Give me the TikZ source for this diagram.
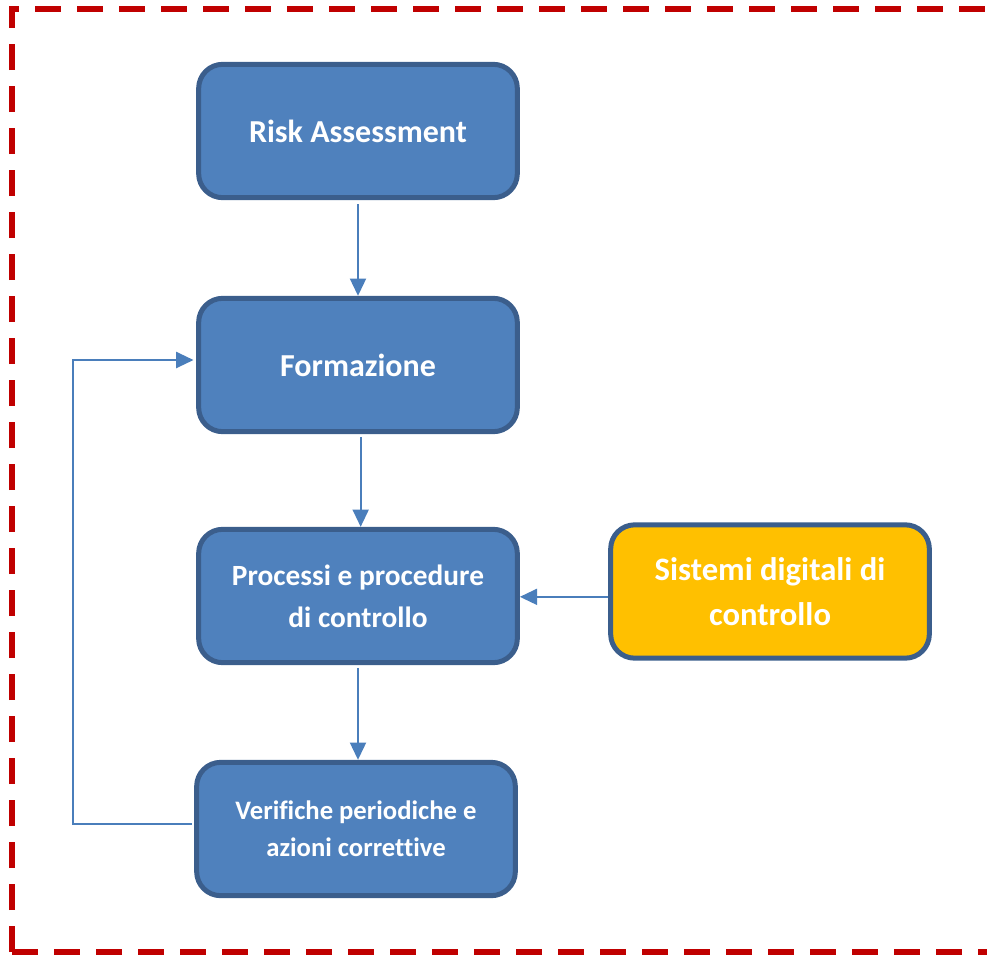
\documentclass[tikz,border=0pt]{standalone}
\usepackage{fontspec}
\setmainfont{Carlito}[Ligatures={NoCommon}]
\usetikzlibrary{arrows.meta}
\definecolor{boxblue}{HTML}{4F81BD}
\definecolor{boxedge}{HTML}{3B5E8C}
\definecolor{boxyellow}{HTML}{FFC000}
\definecolor{arrblue}{HTML}{4A7EBB}
\definecolor{framered}{HTML}{C00000}
\tikzset{
  flowbox/.style={draw=boxedge, line width=3.75pt, fill=boxblue, rounded corners=18pt,
    minimum width=239pt, minimum height=100pt, inner sep=0pt, align=center,
    text=white, font=\bfseries},
  yellowbox/.style={flowbox, fill=boxyellow},
  arr/.style={draw=arrblue, line width=1.6pt, -{Triangle[length=13pt,width=12pt]}},
  frame/.style={draw=framered, line width=5pt, dash pattern=on 19.5pt off 12pt}
}
\begin{document}
\begin{tikzpicture}[x=0.75pt,y=-0.75pt]
\useasboundingbox (0,0) rectangle (987,956);
\draw[frame] (12,952) -- (12,9) -- (1010,9);
\draw[frame] (12,952) -- (1010,952);

\node[flowbox, font=\bfseries\fontsize{24}{29}\selectfont] (ra) at (358,131) {Risk Assessment};
\node[flowbox, font=\bfseries\fontsize{24}{29}\selectfont] (fo) at (358,365) {Formazione};
\node[flowbox, font=\bfseries\fontsize{22}{31.5}\selectfont] (pr) at (358,596) {Processi e procedure\\di controllo};
\node[flowbox, font=\bfseries\fontsize{20}{27.5}\selectfont] (ve) at (356,829) {Verifiche periodiche e\\azioni correttive};
\node[yellowbox, font=\bfseries\fontsize{24.5}{34}\selectfont] (sd) at (770,591.5) {Sistemi digitali di\\controllo};

\draw[arr, shorten <=3pt] (ra.south) -- (fo.north);
\draw[arr, shorten <=2pt] ([xshift=2pt]fo.south) -- ([xshift=2pt]pr.north);
\draw[arr, shorten <=2pt] (pr.south) -- (pr.south |- ve.north);
\coordinate (sj) at ([yshift=-4pt]sd.west);
\draw[arr] (sj) -- (sj -| pr.east);
\coordinate (vj) at ([yshift=3.75pt,xshift=-2pt]ve.west);
\coordinate (fb) at (73,360);
\draw[arr] (vj) -- (vj -| fb) -- (fb) -- ([xshift=-2pt]fb -| fo.west);
\end{tikzpicture}
\end{document}
